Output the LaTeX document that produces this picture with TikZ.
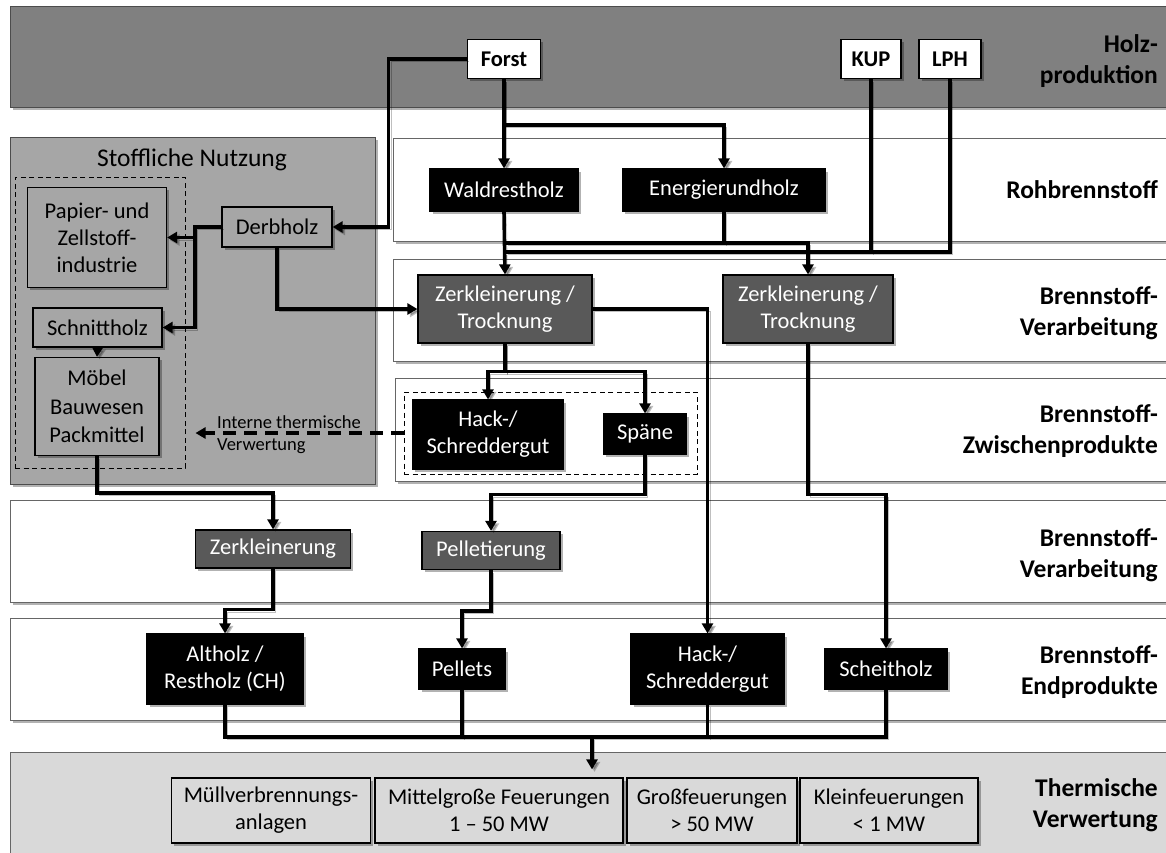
\documentclass[tikz,border=0pt]{standalone}
\usepackage{fontspec}
\setmainfont{Carlito}
\usetikzlibrary{arrows.meta,shadows,calc}
\definecolor{darkband}{HTML}{808080}
\definecolor{stoffgray}{HTML}{A6A6A6}
\definecolor{procgray}{HTML}{595959}
\definecolor{thermgray}{HTML}{D9D9D9}
\newcommand\boxfont{\fontsize{22.5}{27}\selectfont}
\newcommand\labfont{\fontsize{25.5}{31}\selectfont\bfseries}
\newcommand\titlefont{\fontsize{25.5}{30}\selectfont}
\newcommand\smallfont{\fontsize{18.5}{22}\selectfont}
\tikzset{
  shd/.style={drop shadow={shadow xshift=2.5pt, shadow yshift=-2.5pt, opacity=0.3, fill=black}},
  band/.style={draw=black!60, line width=0.9pt, fill=white, shd},
  box/.style={rectangle, draw=black, line width=1.2pt, align=center, inner sep=0pt, font=\boxfont, shd},
  blk/.style={box, fill=black, text=white},
  proc/.style={box, fill=procgray, text=white},
  wht/.style={box, fill=white, font=\boxfont\bfseries},
  gry/.style={box, fill=stoffgray},
  therm/.style={box, fill=thermgray},
  dashnode/.style={rectangle, draw=black, line width=1pt, dash pattern=on 5pt off 3.5pt, inner sep=0pt},
  lab/.style={anchor=east, align=right, inner sep=0pt, font=\labfont},
  lshd/.style={preaction={draw=black, opacity=0.25, transform canvas={shift={(2.5pt,-2.5pt)}}}},
  line/.style={line width=3.6pt, lshd},
  arr/.style={line, -{Triangle[length=10pt,width=11pt]}},
  dasharr/.style={line width=3.6pt, dash pattern=on 13pt off 8pt, -{Triangle[length=10pt,width=11pt]}}
}
\begin{document}
\begin{tikzpicture}[x=1pt,y=-1pt]
\useasboundingbox (0,0) rectangle (1166,852);
% bands
\draw[band, fill=darkband, draw=black!70] (10,6) rectangle (1180,107);
\draw[band] (393,138) rectangle (1180,241);
\draw[band] (393,259) rectangle (1180,361);
\draw[band] (395,378) rectangle (1180,481);
\draw[band] (10,500) rectangle (1180,602);
\draw[band] (10,618) rectangle (1180,720);
\draw[band, fill=thermgray] (10,752) rectangle (1180,880);
\draw[band, fill=stoffgray, draw=black!70] (10,137) rectangle (375,484);
% right labels
\node[lab] at (1158,61) {Holz-\\produktion};
\node[lab] at (1158,190) {Rohbrennstoff};
\node[lab] at (1158,313) {Brennstoff-\\Verarbeitung};
\node[lab] at (1158,431) {Brennstoff-\\Zwischenprodukte};
\node[lab] at (1158,555) {Brennstoff-\\Verarbeitung};
\node[lab] at (1158,672) {Brennstoff-\\Endprodukte};
\node[lab] at (1158,805) {Thermische\\Verwertung};
% Stoffliche Nutzung
\node[font=\titlefont, inner sep=0pt] (stitle) at (192,160) {Stoffliche Nutzung};
\node[dashnode, minimum width=170, minimum height=291] (sdash) at (100,322.5) {};
\node[gry, minimum width=139, minimum height=100] (papier) at (97,237.5) {Papier- und\\Zellstoff-\\industrie};
\node[gry, minimum width=110, minimum height=40] (derb) at (277,227) {Derbholz};
\node[gry, minimum width=129, minimum height=39] (schnitt) at (97.5,327.5) {Schnittholz};
\node[gry, minimum width=124, minimum height=98, font=\fontsize{22.5}{28.5}\selectfont] (moebel) at (97,406.5) {Möbel\\Bauwesen\\Packmittel};
% top
\node[wht, minimum width=73, minimum height=39] (forst) at (504,59) {Forst};
\node[wht, minimum width=60, minimum height=39] (kup) at (871,59) {KUP};
\node[wht, minimum width=62, minimum height=39] (lph) at (950,59) {LPH};
\node[blk, minimum width=148, minimum height=42] (wald) at (504,190) {Waldrestholz};
\node[blk, minimum width=203, minimum height=42] (energ) at (724,190) {Energierundholz};
\node[proc, minimum width=174, minimum height=68] (zk1) at (505,309) {Zerkleinerung /\\Trocknung};
\node[proc, minimum width=170, minimum height=68] (zk2) at (808,309) {Zerkleinerung /\\Trocknung};
\node[dashnode, minimum width=293, minimum height=82] (zw) at (550.5,433) {};
\node[blk, minimum width=151, minimum height=69] (hack1) at (488,434.5) {Hack-/\\Schreddergut};
\node[blk, minimum width=83, minimum height=40] (spaene) at (645,434) {Späne};
\node[proc, minimum width=155, minimum height=38] (zerkl) at (273,549) {Zerkleinerung};
\node[proc, minimum width=138, minimum height=38] (pellet) at (491,550.5) {Pelletierung};
\node[blk, minimum width=156, minimum height=70] (alt) at (225,669) {Altholz /\\Restholz (CH)};
\node[blk, minimum width=86, minimum height=40] (pellets) at (462,669) {Pellets};
\node[blk, minimum width=153, minimum height=70] (hack2) at (707.5,669) {Hack-/\\Schreddergut};
\node[blk, minimum width=122, minimum height=40] (scheit) at (886,669) {Scheitholz};
% bottom
\node[therm, minimum width=199, minimum height=65] (b1) at (271,810.5) {Müllverbrennungs-\\anlagen};
\node[therm, minimum width=248, minimum height=65] (b2) at (499,810.5) {Mittelgroße Feuerungen\\1 – 50 MW};
\node[therm, minimum width=170, minimum height=65] (b3) at (712,810.5) {Großfeuerungen\\> 50 MW};
\node[therm, minimum width=178, minimum height=65] (b4) at (889,810.5) {Kleinfeuerungen\\< 1 MW};
% internal label
\node[anchor=west, align=left, inner sep=0pt, font=\smallfont] (intl) at (217,435) {Interne thermische\\Verwertung};
% coordinates
\coordinate (eh) at (724,243);
\coordinate (kl) at (505,252);
\coordinate (dv) at (194,0);
\coordinate (col) at (592,737);
% connectors
\draw[arr] (forst.west) -| ($(derb.east)+(56,0)$) -- (derb.east);
\draw[arr] (forst.south) -- (wald.north);
\draw[arr] (forst.south) -- ++(0,46) -| (energ.north);
\draw[arr] (wald.south) -- (zk1.north);
\draw[line] (energ.south) -- (eh);
\draw[arr] (eh) -| (zk2.north);
\draw[line] (eh) -- (eh -| zk1.north);
\draw[line] (lph.south) |- (kl);
\draw[line] (kup.south) -- (kup.south |- kl);
\draw[arr] (derb.south) |- (zk1.west);
\draw[arr] (derb.west) -| ($(schnitt.east)+(32.5,0)$) -- (schnitt.east);
\draw[arr] (papier.east -| dv) -- (papier.east);
\draw[arr] (schnitt.south) -- (moebel.north);
\draw[arr] (moebel.south) -- ++(0,37) -| (zerkl.north);
\draw[arr] (zk1.south) -- ++(0,28) -| (hack1.north);
\draw[arr] (zk1.south) -- ++(0,28) -| (spaene.north);
\draw[arr] (zk1.east) -| (hack2.north);
\draw[arr] (zk2.south) -- ++(0,151) -| (scheit.north);
\draw[arr] (spaene.south) -- ++(0,40) -| (pellet.north);
\draw[arr] (zerkl.south) -- ++(0,41) -| (alt.north);
\draw[arr] (pellet.south) -- ++(0,41) -| (pellets.north);
\draw[line] (alt.south) |- (col -| scheit.south) -- (scheit.south);
\draw[line] (pellets.south) -- (pellets.south |- col);
\draw[line] (hack2.south) -- (hack2.south |- col);
\draw[arr] (col) -- ($(col |- b2.north)+(0,-8)$);
\draw[dasharr] (zw.west) -- ($(zw.west -| sdash.east)+(10,0)$);
\end{tikzpicture}
\end{document}
